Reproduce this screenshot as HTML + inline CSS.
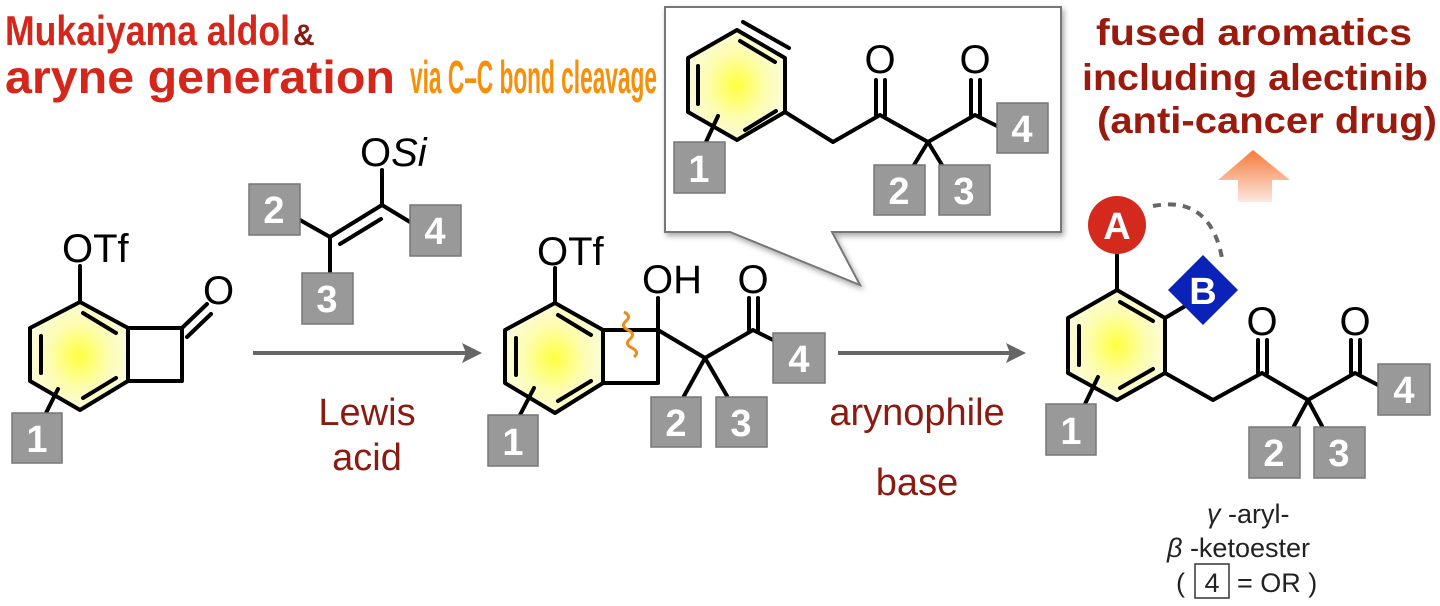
<!DOCTYPE html>
<html><head><meta charset="utf-8"><style>
html,body{margin:0;padding:0;background:#fff;}
svg{display:block;}
text{font-family:"Liberation Sans",sans-serif;}
.b{fill:none;stroke:#000;stroke-width:4;stroke-linecap:round;stroke-linejoin:round;}
.bx{fill:#999;stroke:#777;stroke-width:1.5;}
.bn{fill:#fff;font-weight:bold;font-size:38px;text-anchor:middle;}
.at{font-size:40px;fill:#000;}
.rc{fill:#8b1a10;font-size:38px;text-anchor:middle;}
.nar{font-weight:bold;}
</style></head><body>
<svg width="1440" height="606" viewBox="0 0 1440 606" xmlns="http://www.w3.org/2000/svg">
<defs>
<radialGradient id="yg"><stop offset="0" stop-color="#ffff40"/><stop offset="0.6" stop-color="#fdfdb0"/><stop offset="1" stop-color="#fbfbd8"/></radialGradient>
<linearGradient id="og" x1="0" y1="0" x2="0" y2="1"><stop offset="0" stop-color="#f57a3a"/><stop offset="1" stop-color="#fde8e0"/></linearGradient>
<filter id="sh" x="-5%" y="-5%" width="110%" height="115%"><feDropShadow dx="2" dy="3" stdDeviation="3" flood-color="#000" flood-opacity="0.35"/></filter>
</defs>

<text class="nar" x="5" y="45" font-size="42" fill="#d4261a" textLength="285" lengthAdjust="spacingAndGlyphs">Mukaiyama aldol</text>
<text class="nar" x="293" y="45" font-size="30" fill="#8b1a10">&amp;</text>
<text class="nar" x="5" y="93" font-size="46" fill="#d4261a" textLength="390" lengthAdjust="spacingAndGlyphs">aryne generation</text>
<text class="nar" x="410" y="93" font-size="46" fill="#f6900a" textLength="247" lengthAdjust="spacingAndGlyphs">via C–C bond cleavage</text>

<g font-weight="bold" font-size="37" fill="#9b1a0e">
<text x="1096" y="45" textLength="316" lengthAdjust="spacingAndGlyphs">fused aromatics</text>
<text x="1082" y="90" textLength="346" lengthAdjust="spacingAndGlyphs">including alectinib</text>
<text x="1097" y="133" textLength="340" lengthAdjust="spacingAndGlyphs">(anti-cancer drug)</text>
</g>
<polygon points="1253,150 1290,180 1272,180 1272,202 1238,202 1238,180 1218,180" fill="url(#og)"/>

<path d="M665,7 H1061 V232 H832 L860,285 L730,232 H665 Z" fill="#fff" stroke="#777" stroke-width="2" filter="url(#sh)"/>
<polygon points="737,30 785,58 785,112 737,140 688,112 688,58" fill="url(#yg)"/>
<g class="b">
<polygon points="737,30 785,58 785,112 737,140 688,112 688,58"/>
<line x1="698" y1="66" x2="698" y2="104"/><line x1="745" y1="130" x2="776" y2="111"/><line x1="740" y1="41" x2="775" y2="62"/>
<line x1="743" y1="22" x2="789" y2="48"/>
<polyline points="785,112 833,142 880,115 928,142 975,115 997,126"/>
<line x1="876" y1="115" x2="876" y2="80"/><line x1="885" y1="115" x2="885" y2="80"/>
<line x1="971" y1="115" x2="971" y2="80"/><line x1="980" y1="115" x2="980" y2="80"/>
<line x1="718" y1="116" x2="706" y2="142"/>
<line x1="928" y1="142" x2="914" y2="165"/><line x1="928" y1="142" x2="942" y2="165"/>
</g>
<text x="880" y="73" class="at" text-anchor="middle">O</text>
<text x="975" y="73" class="at" text-anchor="middle">O</text>
<rect class="bx" x="674" y="142" width="51" height="51"/><text class="bn" x="699" y="182">1</text>
<rect class="bx" x="874" y="165" width="51" height="50"/><text class="bn" x="899" y="204">2</text>
<rect class="bx" x="939" y="165" width="51" height="50"/><text class="bn" x="964" y="204">3</text>
<rect class="bx" x="997" y="103" width="51" height="50"/><text class="bn" x="1022" y="142">4</text>

<polygon points="80,302 128,328 128,381 80,410 30,381 30,328" fill="url(#yg)"/>
<g class="b">
<polygon points="80,302 128,328 128,381 80,410 30,381 30,328"/>
<line x1="41" y1="336" x2="41" y2="373"/><line x1="83" y1="313" x2="116" y2="333"/><line x1="83" y1="398" x2="116" y2="378"/>
<polyline points="128,328 182,328 182,381 128,381"/>
<line x1="182" y1="328" x2="207" y2="304"/><line x1="187" y1="337" x2="211" y2="314"/>
<line x1="80" y1="302" x2="80" y2="266"/>
<line x1="58" y1="389" x2="46" y2="413"/>
</g>
<text x="62" y="262" class="at">OTf</text>
<text x="203" y="304" class="at">O</text>
<rect class="bx" x="12" y="413" width="50" height="50"/><text class="bn" x="37" y="452">1</text>

<g class="b">
<polyline points="300,220 330,237 330,273"/>
<line x1="330" y1="237" x2="382" y2="205"/><line x1="340" y1="244" x2="381" y2="219"/>
<line x1="382" y1="205" x2="382" y2="170"/><line x1="382" y1="205" x2="410" y2="222"/>
</g>
<text x="360" y="166" class="at">O<tspan font-style="italic">Si</tspan></text>
<rect class="bx" x="249" y="184" width="51" height="51"/><text class="bn" x="274" y="223">2</text>
<rect class="bx" x="302" y="273" width="51" height="51"/><text class="bn" x="327" y="312">3</text>
<rect class="bx" x="410" y="205" width="51" height="51"/><text class="bn" x="435" y="244">4</text>

<line x1="253" y1="353" x2="468" y2="353" stroke="#666" stroke-width="4"/>
<polygon points="482,353 462,343 466,353 462,363" fill="#666"/>
<text class="rc" x="367" y="425">Lewis</text>
<text class="rc" x="367" y="470">acid</text>

<polygon points="555,303 603,330 603,383 555,413 505,383 505,330" fill="url(#yg)"/>
<g class="b">
<polygon points="555,303 603,330 603,383 555,413 505,383 505,330"/>
<line x1="516" y1="338" x2="516" y2="375"/><line x1="558" y1="315" x2="591" y2="335"/><line x1="558" y1="401" x2="591" y2="381"/>
<polyline points="603,330 658,330 658,383 603,383"/>
<line x1="555" y1="303" x2="555" y2="268"/>
<line x1="658" y1="330" x2="658" y2="298"/>
<polyline points="658,330 705,358 753,330 773,340"/>
<line x1="749" y1="330" x2="749" y2="298"/><line x1="758" y1="330" x2="758" y2="298"/>
<line x1="705" y1="358" x2="684" y2="396"/><line x1="705" y1="358" x2="727" y2="396"/>
<line x1="534" y1="388" x2="520" y2="415"/>
</g>
<path d="M624,312 q8,4 2,9 q-6,5 2,9 q8,4 2,9 q-6,5 2,9 q8,4 2,9" fill="none" stroke="#f08a1a" stroke-width="3"/>
<text x="537" y="265" class="at">OTf</text>
<text x="642" y="293" class="at">OH</text>
<text x="753" y="293" class="at" text-anchor="middle">O</text>
<rect class="bx" x="488" y="415" width="50" height="51"/><text class="bn" x="513" y="455">1</text>
<rect class="bx" x="651" y="397" width="50" height="50"/><text class="bn" x="676" y="436">2</text>
<rect class="bx" x="716" y="397" width="51" height="50"/><text class="bn" x="741" y="436">3</text>
<rect class="bx" x="773" y="333" width="52" height="50"/><text class="bn" x="799" y="372">4</text>

<line x1="838" y1="353" x2="1012" y2="353" stroke="#666" stroke-width="4"/>
<polygon points="1026,353 1006,343 1010,353 1006,363" fill="#666"/>
<text class="rc" x="917" y="425">arynophile</text>
<text class="rc" x="917" y="495">base</text>

<polygon points="1117,290 1165,318 1165,373 1117,400 1068,373 1068,318" fill="url(#yg)"/>
<g class="b">
<polygon points="1117,290 1165,318 1165,373 1117,400 1068,373 1068,318"/>
<line x1="1079" y1="326" x2="1079" y2="365"/><line x1="1120" y1="302" x2="1153" y2="321"/><line x1="1120" y1="388" x2="1153" y2="369"/>
<line x1="1117" y1="290" x2="1117" y2="255"/>
<line x1="1165" y1="318" x2="1187" y2="305"/>
<polyline points="1165,373 1213,400 1262,373 1308,400 1355,373 1378,385"/>
<line x1="1258" y1="373" x2="1258" y2="340"/><line x1="1267" y1="373" x2="1267" y2="340"/>
<line x1="1351" y1="373" x2="1351" y2="340"/><line x1="1360" y1="373" x2="1360" y2="340"/>
<line x1="1308" y1="400" x2="1294" y2="426"/><line x1="1308" y1="400" x2="1322" y2="426"/>
<line x1="1098" y1="377" x2="1085" y2="404"/>
</g>
<path d="M1153,206 Q1210,195 1222,258" fill="none" stroke="#666" stroke-width="4" stroke-dasharray="8,7"/>
<circle cx="1117" cy="225" r="29" fill="#d42a1e"/>
<text x="1117" y="239" fill="#fff" font-weight="bold" font-size="38" text-anchor="middle">A</text>
<polygon points="1203,255 1238,290 1203,325 1168,290" fill="#0a22b8"/>
<text x="1203" y="304" fill="#fff" font-weight="bold" font-size="38" text-anchor="middle">B</text>
<text x="1262" y="335" class="at" text-anchor="middle">O</text>
<text x="1355" y="335" class="at" text-anchor="middle">O</text>
<rect class="bx" x="1046" y="404" width="50" height="51"/><text class="bn" x="1071" y="444">1</text>
<rect class="bx" x="1249" y="427" width="51" height="51"/><text class="bn" x="1274" y="466">2</text>
<rect class="bx" x="1314" y="427" width="51" height="51"/><text class="bn" x="1339" y="466">3</text>
<rect class="bx" x="1378" y="364" width="52" height="51"/><text class="bn" x="1404" y="403">4</text>

<g font-size="27" fill="#222">
<text x="1207" y="523"><tspan font-style="italic">γ</tspan> -aryl-</text>
<text x="1167" y="557"><tspan font-style="italic">β</tspan> -ketoester</text>
<text x="1176" y="592">(</text>
<rect x="1195" y="564" width="34" height="34" fill="none" stroke="#333" stroke-width="1.5"/>
<text x="1212" y="592" text-anchor="middle">4</text>
<text x="1237" y="592">= OR )</text>
</g>
</svg>
</body></html>
